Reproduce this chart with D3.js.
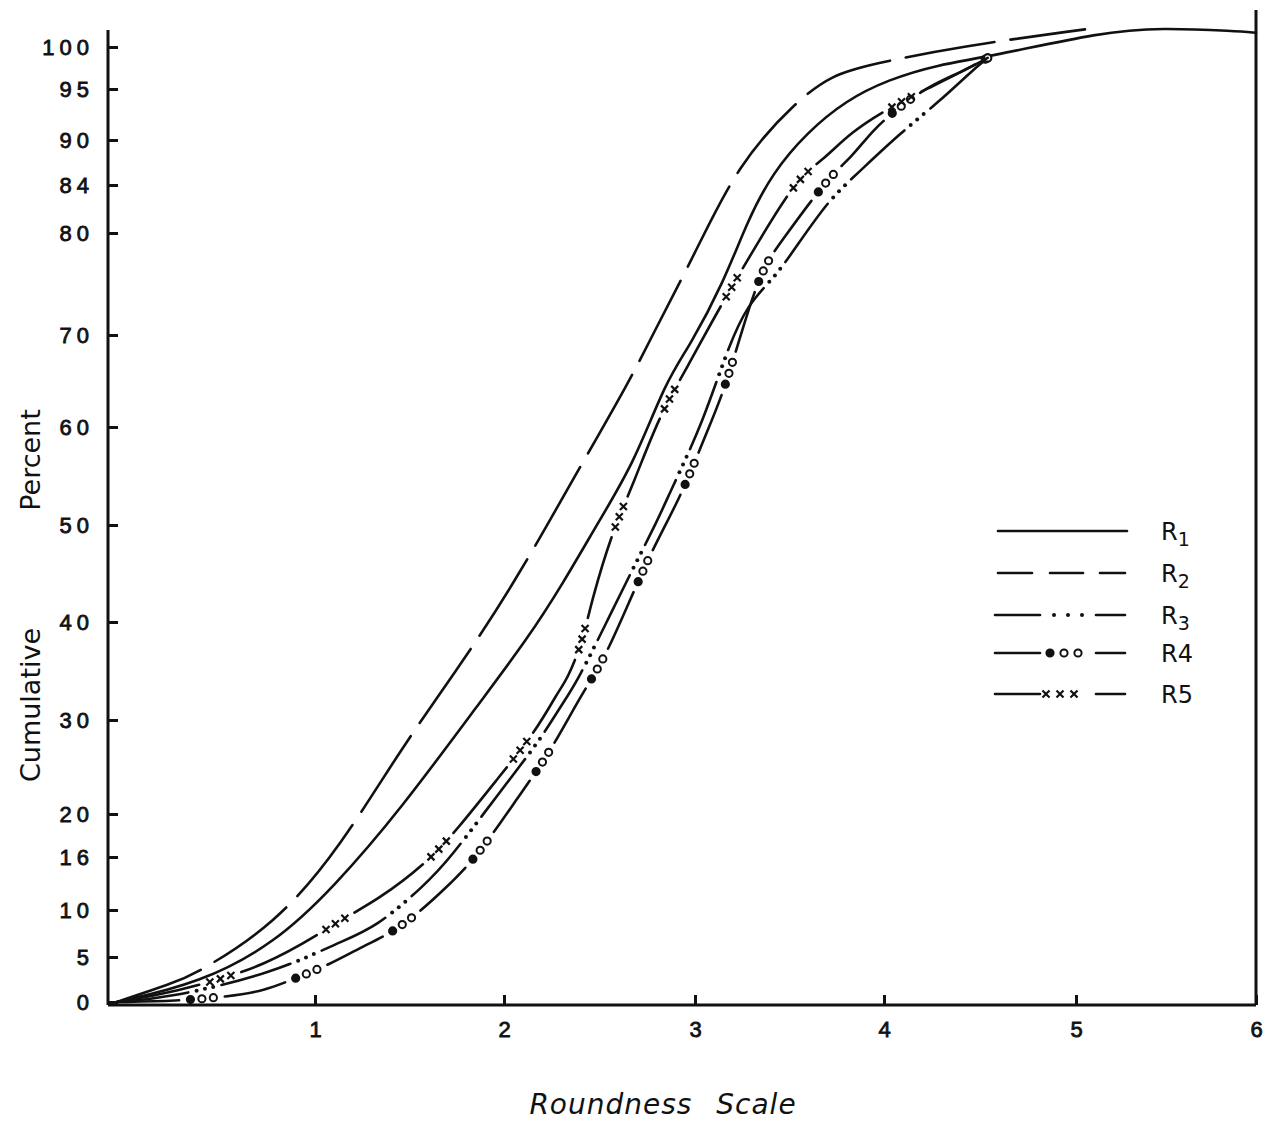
<!DOCTYPE html>
<html>
<head>
<meta charset="utf-8">
<script src="https://cdn.jsdelivr.net/npm/d3@7"></script>
<style>
body { margin: 0; background: #fff; }
</style>
</head>
<body>
<div id="chart"></div>
<script>
// Data.
var yTicks = [0, 5, 10, 16, 20, 30, 40, 50, 60, 70, 80, 84, 90, 95, 100];
var xTicks = [1, 2, 3, 4, 5, 6];
var names = ["R1", "R2", "R3", "R4", "R5"];

var r1x = [0, 0.42, 0.80, 1.10, 1.45, 1.88, 2.12, 2.31, 2.50, 2.68, 2.85, 2.97, 3.15, 3.28, 3.41, 3.59, 3.80, 4.02, 4.28, 4.54, 5.15, 5.47, 5.89, 6.0];
var r1y = [0, 2.1, 6.5, 12.6, 20.4, 32.0, 38.2, 44.0, 50.5, 56.3, 65.1, 68.7, 75.1, 81.1, 85.6, 90.7, 93.9, 96.1, 97.9, 98.8, 101.8, 102.3, 101.9, 101.7];

var r2x = [0, 0.28, 0.38, 0.80, 1.14, 1.46, 1.74, 2.04, 2.38, 2.66, 2.77, 3.00, 3.23, 3.54, 3.73, 3.92, 4.40, 5.05];
var r2y = [0, 2.1, 2.9, 8.4, 17.1, 27.1, 34.8, 43.5, 55.3, 65.1, 69.7, 78.0, 86.9, 93.9, 96.7, 97.9, 100.1, 102.1];

var r3x = [0, 0.25, 0.79, 1.13, 1.32, 1.58, 1.71, 1.98, 2.19, 2.30, 2.38, 2.53, 2.69, 2.80, 2.88, 3.04, 3.17, 3.28, 3.42, 3.53, 3.71, 3.85, 4.08, 4.29, 4.45, 4.54];
var r3y = [0, 0.4, 3.2, 6.6, 8.1, 12.8, 15.7, 22.4, 27.9, 31.5, 33.8, 39.7, 46.1, 50.3, 53.8, 60.4, 68.4, 73.1, 75.6, 78.5, 82.8, 85.3, 90.6, 93.8, 97.0, 98.7];

var r4x = [0, 0.30, 0.56, 0.74, 0.92, 1.07, 1.25, 1.46, 1.70, 1.87, 2.08, 2.24, 2.41, 2.54, 2.75, 2.92, 3.05, 3.15, 3.24, 3.35, 3.45, 3.70, 3.83, 3.94, 4.09, 4.24, 4.40, 4.54];
var r4y = [0, 0.1, 0.6, 1.2, 2.8, 4.1, 6.1, 8.1, 12.6, 16.3, 22.0, 26.5, 32.8, 36.6, 46.6, 52.6, 58.9, 63.7, 69.9, 76.4, 79.0, 84.9, 87.7, 91.0, 93.4, 95.4, 97.0, 98.7];

var r5x = [0, 0.27, 0.76, 1.13, 1.33, 1.59, 1.75, 1.98, 2.17, 2.28, 2.33, 2.41, 2.46, 2.57, 2.68, 2.81, 2.96, 3.13, 3.34, 3.54, 3.69, 3.82, 4.03, 4.24, 4.40, 4.54];
var r5y = [0, 1.0, 3.9, 8.9, 11.1, 15.3, 18.5, 24.1, 28.9, 32.8, 34.1, 37.9, 42.3, 49.5, 54.3, 61.1, 66.5, 72.7, 79.3, 84.9, 87.6, 90.7, 93.2, 95.2, 97.0, 98.7];

var W = 1274, H = 1125;
var ink = "#111";

var svg = d3.select("#chart")
	.append("svg")
	.attr("width", W)
	.attr("height", H)
	.style("font-family", "'DejaVu Sans', sans-serif");

// Hand-drawn axes are not evenly spaced, so piecewise scales.
var x = d3.scaleLinear()
	.domain([0, 1, 2, 3, 4, 5, 6])
	.range([117, 315, 504, 695, 884, 1076, 1256]);
var y = d3.scaleLinear()
	.domain(yTicks)
	.range([1002, 957, 910, 857, 814, 720, 622, 525, 427, 335, 233, 185, 140, 89, 47]);

// Frame lines.
svg.append("line").attr("x1", 108).attr("y1", 30).attr("x2", 108).attr("y2", 1005)
	.attr("stroke", ink).attr("stroke-width", 3);
svg.append("line").attr("x1", 108).attr("y1", 1005).attr("x2", 1256).attr("y2", 1005)
	.attr("stroke", ink).attr("stroke-width", 3);
svg.append("line").attr("x1", 1256).attr("y1", 10).attr("x2", 1256).attr("y2", 1005)
	.attr("stroke", ink).attr("stroke-width", 3);

// Y axis.
var gy = svg.append("g")
	.attr("transform", "translate(108,0)")
	.call(d3.axisLeft(y).tickValues(yTicks).tickSize(-10).tickPadding(14).tickFormat(d3.format("d")));
gy.select(".domain").remove();
gy.selectAll(".tick line").attr("stroke", ink).attr("stroke-width", 3);
gy.selectAll(".tick text")
	.attr("fill", ink)
	.style("font-size", "22px")
	.style("letter-spacing", "5px")
	.attr("stroke", ink).attr("stroke-width", 0.8);

// X axis.
var gx = svg.append("g")
	.attr("transform", "translate(0,1005)")
	.call(d3.axisBottom(x).tickValues(xTicks).tickSize(-10).tickPadding(16).tickFormat(d3.format("d")));
gx.select(".domain").remove();
gx.selectAll(".tick line").attr("stroke", ink).attr("stroke-width", 3);
gx.selectAll(".tick text")
	.attr("fill", ink)
	.style("font-size", "22px")
	.attr("stroke", ink).attr("stroke-width", 0.8);

// Axis titles.
svg.append("text")
	.attr("x", 663).attr("y", 1114)
	.attr("text-anchor", "middle")
	.style("font-size", "28px")
	.style("font-style", "italic")
	.style("letter-spacing", "1px")
	.style("word-spacing", "14px")
	.attr("fill", ink)
	.text("Roundness Scale");

svg.append("text")
	.attr("transform", "translate(40,460) rotate(-90)")
	.attr("text-anchor", "middle")
	.style("font-size", "27px")
	.attr("fill", ink)
	.text("Percent");
svg.append("text")
	.attr("transform", "translate(40,705) rotate(-90)")
	.attr("text-anchor", "middle")
	.style("font-size", "27px")
	.attr("fill", ink)
	.text("Cumulative");

// Curves: smoothed like a hand-drawn french curve.
var line = d3.line()
	.x(function (d) { return x(d[0]); })
	.y(function (d) { return y(d[1]); })
	.curve(d3.curveBasis);

function drawCurve(xs, ys) {
	return svg.append("path")
		.datum(d3.zip(xs, ys))
		.attr("d", line)
		.attr("fill", "none")
		.attr("stroke", ink)
		.attr("stroke-width", 2.6)
		.attr("stroke-linecap", "round");
}

// Markers.
function dot(px, py) {
	svg.append("circle").attr("cx", px).attr("cy", py).attr("r", 2).attr("fill", ink);
}
function ring(px, py, i) {
	svg.append("circle").attr("cx", px).attr("cy", py).attr("r", 3.6)
		.attr("fill", i == 1 ? ink : "#fff")
		.attr("stroke", ink).attr("stroke-width", 2);
}
function cross(px, py) {
	svg.append("path")
		.attr("d", "M" + (px - 3.5) + "," + (py - 3.5) + "L" + (px + 3.5) + "," + (py + 3.5) +
			"M" + (px + 3.5) + "," + (py - 3.5) + "L" + (px - 3.5) + "," + (py + 3.5))
		.attr("stroke", ink).attr("stroke-width", 2.2);
}

// Dash the path and put n markers in each gap.
function decorate(path, dash, gap, n, mark) {
	var node = path.node();
	var L = node.getTotalLength();
	path.attr("stroke-dasharray", dash + " " + gap);
	if (!mark) return;
	for (var s = dash; s < L - 5; s += dash + gap) {
		for (var i = 1; i <= n; i++) {
			var p = node.getPointAtLength(Math.min(L, s + gap * i / (n + 1)));
			mark(p.x, p.y, i);
		}
	}
}

drawCurve(r1x, r1y);
decorate(drawCurve(r2x, r2y), 90, 16, 0, null);
decorate(drawCurve(r3x, r3y), 72, 34, 3, dot);
decorate(drawCurve(r4x, r4y), 62, 46, 3, ring);
decorate(drawCurve(r5x, r5y), 84, 44, 3, cross);

// Legend.
var legY = [531, 573, 615, 653, 694];
var leg = svg.append("g");
function seg(x1, x2, yy) {
	leg.append("line").attr("x1", x1).attr("x2", x2).attr("y1", yy).attr("y2", yy)
		.attr("stroke", ink).attr("stroke-width", 2.6).attr("stroke-linecap", "round");
}
names.forEach(function (nm, k) {
	var yy = legY[k];
	if (k == 0) seg(998, 1127, yy);
	if (k == 1) { seg(998, 1032, yy); seg(1050, 1083, yy); seg(1100, 1125, yy); }
	if (k >= 2) {
		seg(995, 1040, yy);
		seg(1096, 1125, yy);
		[1054, 1068, 1082].forEach(function (mx, i) {
			if (k == 2) dot(mx, yy);
			if (k == 3) ring(mx - 4, yy, i + 1);
			if (k == 4) cross(mx - 8, yy);
		});
	}
	var t = leg.append("text")
		.attr("x", 1161).attr("y", yy + 9)
		.style("font-size", "24px")
		.attr("fill", ink);
	t.append("tspan").text(nm.charAt(0));
	if (k < 3) {
		t.append("tspan").attr("dy", 6).style("font-size", "19px").text(nm.charAt(1));
	} else {
		t.append("tspan").text(nm.charAt(1));
	}
});
</script>
</body>
</html>
